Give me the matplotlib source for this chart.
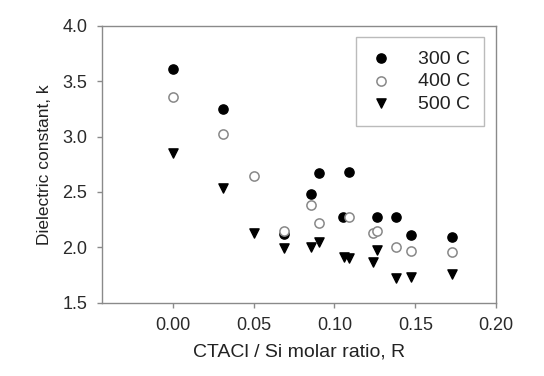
import matplotlib
matplotlib.use("Agg")
import matplotlib.pyplot as plt

plt.rcParams['font.family'] = ['Liberation Sans', 'DejaVu Sans']

# Data
x300 = [0.000, 0.031, 0.069, 0.0854, 0.0904, 0.105, 0.1088, 0.1265, 0.1379, 0.1474, 0.1728]
y300 = [3.61, 3.25, 2.12, 2.48, 2.67, 2.27, 2.68, 2.27, 2.27, 2.11, 2.09]

x400 = [0.000, 0.031, 0.050, 0.0687, 0.0854, 0.0904, 0.1088, 0.124, 0.1265, 0.1379, 0.1474, 0.1728]
y400 = [3.36, 3.02, 2.64, 2.15, 2.38, 2.22, 2.27, 2.13, 2.15, 2.00, 1.97, 1.955]

x500 = [0.000, 0.031, 0.050, 0.0687, 0.0854, 0.0904, 0.106, 0.1088, 0.124, 0.1265, 0.1379, 0.1474, 0.1728]
y500 = [2.85, 2.54, 2.13, 1.99, 2.00, 2.05, 1.915, 1.90, 1.865, 1.975, 1.72, 1.735, 1.76]

xticks = [0.00, 0.05, 0.10, 0.15, 0.20]
yticks = [1.5, 2.0, 2.5, 3.0, 3.5, 4.0]

fig = plt.figure(figsize=(5.44, 3.76), dpi=100)
ax = fig.add_axes([0.187, 0.195, 0.725, 0.736])

ax.scatter(x300, y300, s=44, marker='o', facecolor='black', edgecolor='black', zorder=3, label='300 C')
ax.scatter(x400, y400, s=44, marker='o', facecolor='white', edgecolor='#888888', linewidths=1.1, zorder=4, label='400 C')
ax.scatter(x500, y500, s=44, marker='v', facecolor='black', edgecolor='black', zorder=3, label='500 C')

ax.set_xlim(-0.044, 0.20)
ax.set_ylim(1.5, 4.0)
ax.set_xticks(xticks)
ax.set_xticklabels([f"{t:.2f}" for t in xticks])
ax.set_yticks(yticks)
ax.set_yticklabels([f"{t:.1f}" for t in yticks])

for s in ax.spines.values():
    s.set_color('#8a8a8a')
    s.set_linewidth(1.0)
ax.tick_params(direction='out', length=3.5, width=1, color='#8a8a8a',
               labelsize=13, labelcolor='#2a2a2a')
ax.tick_params(axis='x', pad=7)
ax.tick_params(axis='y', pad=7)

ax.set_xlabel('CTACl / Si molar ratio, R', fontsize=14, color='#222222', labelpad=7)
ax.set_ylabel('Dielectric constant, k', fontsize=12.5, color='#222222', labelpad=7)

leg = ax.legend(loc='upper right', bbox_to_anchor=(0.968, 0.961), frameon=True, fancybox=False,
                edgecolor='#aaaaaa', fontsize=14, handlelength=1.2, handletextpad=1.32,
                borderpad=0.68, labelspacing=0.25, borderaxespad=0.0, scatterpoints=1)
leg.get_frame().set_linewidth(1.0)
for t in leg.get_texts():
    t.set_color('#222222')

fig.savefig('out.png', dpi=100)
